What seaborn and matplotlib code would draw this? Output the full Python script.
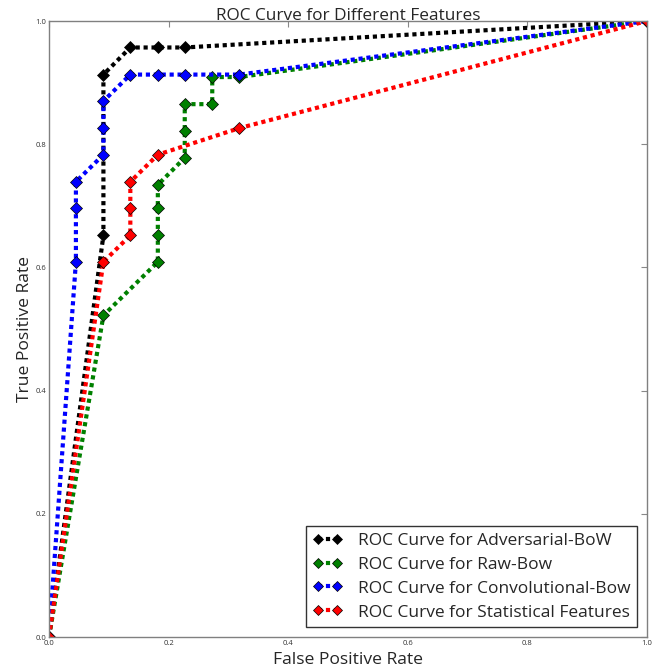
import matplotlib
matplotlib.use('Agg')
import matplotlib.pyplot as plt
import seaborn as sns

# ROC points
adv_fpr = [0.0, 0.091, 0.091, 0.136, 0.182, 0.227, 1.0]
adv_tpr = [0.0, 0.652, 0.913, 0.957, 0.957, 0.957, 1.0]

raw_fpr = [0.0, 0.091, 0.182, 0.182, 0.182, 0.182, 0.227, 0.227, 0.227, 0.273, 0.273, 0.318, 1.0]
raw_tpr = [0.0, 0.522, 0.609, 0.652, 0.696, 0.734, 0.778, 0.821, 0.865, 0.865, 0.909, 0.909, 1.0]

conv_fpr = [0.0, 0.045, 0.045, 0.045, 0.091, 0.091, 0.091, 0.136, 0.182, 0.227, 0.318, 1.0]
conv_tpr = [0.0, 0.609, 0.696, 0.739, 0.783, 0.826, 0.870, 0.913, 0.913, 0.913, 0.913, 1.0]

stat_fpr = [0.0, 0.091, 0.136, 0.136, 0.136, 0.182, 0.318, 1.0]
stat_tpr = [0.0, 0.609, 0.652, 0.696, 0.739, 0.783, 0.826, 1.0]

labels = [
    'ROC Curve for Adversarial-BoW',
    'ROC Curve for Raw-Bow',
    'ROC Curve for Convolutional-Bow',
    'ROC Curve for Statistical Features',
]
colors = ['k', 'g', 'b', 'r']

sns.set_style('white')
plt.rcParams['font.family'] = ['Open Sans', 'DejaVu Sans']

fig = plt.figure(figsize=(6.72, 6.68), dpi=100)
ax = fig.add_axes([49 / 672, 1 - 637 / 668, 598 / 672, 616 / 668])

series = [(adv_fpr, adv_tpr), (raw_fpr, raw_tpr), (conv_fpr, conv_tpr), (stat_fpr, stat_tpr)]
for (fpr, tpr), lab, col in zip(series, labels, colors):
    sns.lineplot(x=fpr, y=tpr, ax=ax, sort=False, estimator=None,
                 color=col, label=lab, linewidth=3, linestyle=(0, (1, 0.9)),
                 marker='D', markersize=6.3, markeredgecolor='k',
                 markeredgewidth=0.5)

ax.set_xlim(0, 1)
ax.set_ylim(0, 1)
ax.set_xticks([0, 0.2, 0.4, 0.6, 0.8, 1.0])
ax.set_yticks([0, 0.2, 0.4, 0.6, 0.8, 1.0])
ax.set_xticklabels(['0.0', '0.2', '0.4', '0.6', '0.8', '1.0'])
ax.set_yticklabels(['0.0', '0.2', '0.4', '0.6', '0.8', '1.0'])
ax.tick_params(direction='in', length=4, width=0.8, color='#888888',
               labelsize=5.5, labelcolor='#333333', top=True, right=True, pad=2)
for sp in ax.spines.values():
    sp.set_color('#808080')
    sp.set_linewidth(1)

ax.set_xlabel('False Positive Rate', fontsize=12.6, labelpad=4)
ax.set_ylabel('True Positive Rate', fontsize=12.6, labelpad=2)
ax.set_title('ROC Curve for Different Features', fontsize=12.4, pad=1)

leg = ax.legend(loc='lower right', fontsize=12.5, numpoints=2, handlelength=1.7,
                handletextpad=0.9, markerscale=0.85, fancybox=False, framealpha=1,
                borderaxespad=0.55, labelspacing=0.45)
leg.get_frame().set_edgecolor('#333333')
leg.get_frame().set_linewidth(1)

fig.savefig('out.png', dpi=100)
